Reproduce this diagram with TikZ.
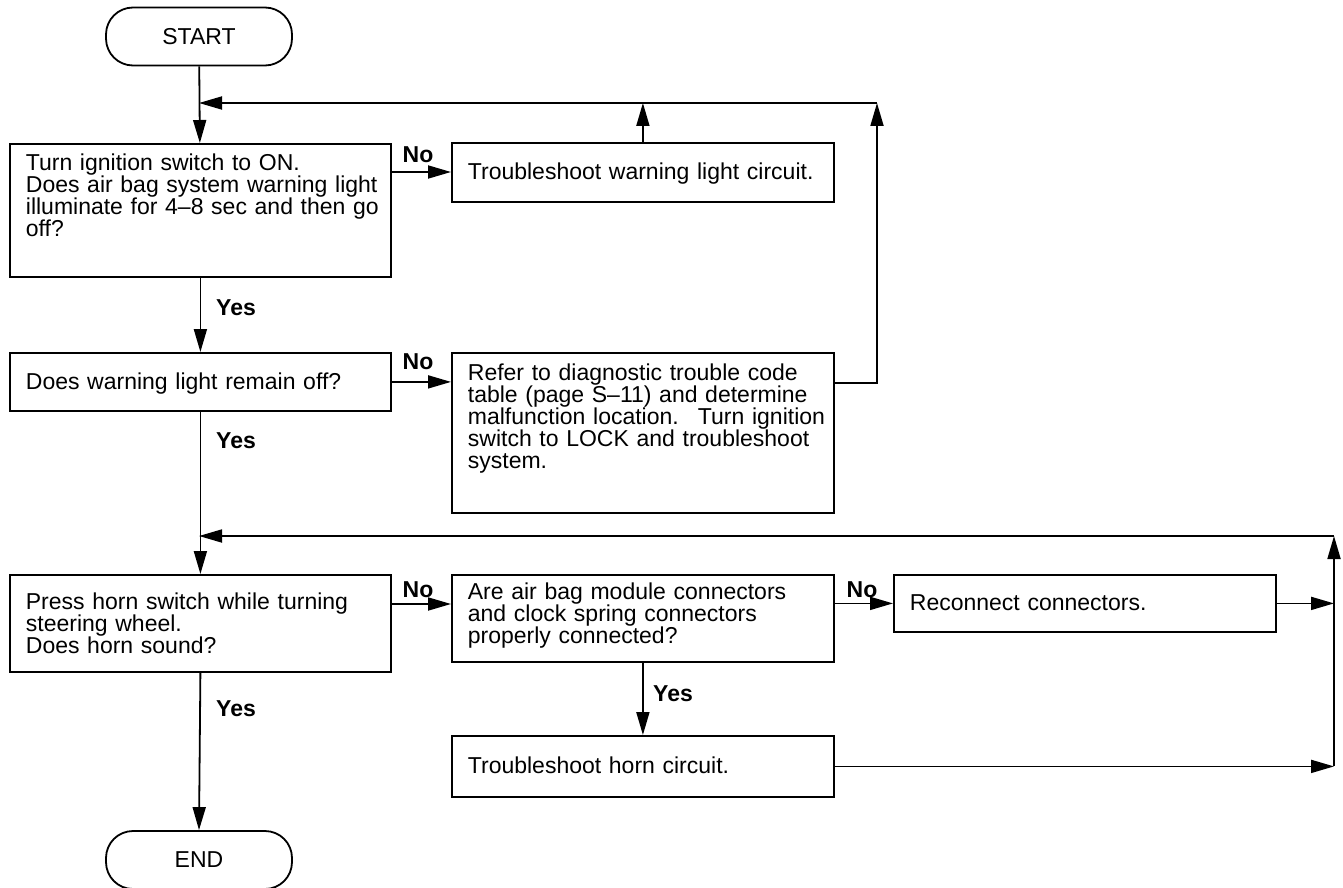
\documentclass[tikz,border=0pt]{standalone}
\usepackage{fontspec}
\setmainfont{Liberation Sans}
\usetikzlibrary{arrows.meta}
\hfuzz=40pt
\hbadness=10000
\begin{document}
\begin{tikzpicture}[x=1pt,y=-1pt,
  line width=1.8pt,
  box/.style={draw, rectangle, anchor=north west, align=left, inner xsep=16pt, inner ysep=0pt,
    font=\fontsize{23}{22}\selectfont},
  tb/.style 2 args={text height=#1, text depth=#2},
  wl/.style={minimum width=381pt, text width=349pt},
  wr/.style={minimum width=382pt, text width=350pt},
  term/.style={draw, rectangle, rounded corners=27pt, minimum width=186pt, minimum height=58pt,
    font=\fontsize{23}{22}\selectfont},
  lbl/.style={font=\bfseries\fontsize{23}{22}\selectfont, inner sep=0pt},
  arr/.style={-{Triangle[length=23pt,width=13pt]}}
]
\useasboundingbox (0,0) rectangle (1343,888);

% terminals
\node[term] (start) at (199,36.5) {START};
\node[term] (end) at (199,860) {END};

% boxes
\node[box, wl, tb={27pt}{106pt}] (b1) at (9,143)
  {\mbox{Turn ignition switch to ON.}\\\mbox{Does air bag system warning light}\\\mbox{illuminate for 4--8 sec and then go}\\off?};
\node[box, wr, tb={37pt}{22pt}] (b2) at (451,142)
  {\mbox{Troubleshoot warning light circuit.}};
\node[box, wl, tb={37pt}{21pt}] (b4) at (9,352)
  {\mbox{Does warning light remain off?}};
\node[box, wr, tb={28pt}{132pt}] (b3) at (451,352)
  {\mbox{Refer to diagnostic trouble code}\\\mbox{table (page S--11) and determine}\\\mbox{malfunction location.~ Turn ignition}\\\mbox{switch to LOCK and troubleshoot}\\system.};
\node[box, wl, tb={35pt}{62pt}] (b5) at (9,574)
  {\mbox{Press horn switch while turning}\\\mbox{steering wheel.}\\\mbox{Does horn sound?}};
\node[box, wr, tb={25pt}{62pt}] (b6) at (451,574)
  {\mbox{Are air bag module connectors}\\\mbox{and clock spring connectors}\\\mbox{properly connected?}};
\node[box, wr, tb={36pt}{21pt}] (b7) at (893,574)
  {\mbox{Reconnect connectors.}};
\node[box, wr, tb={38pt}{23pt}] (b8) at (451,735)
  {\mbox{Troubleshoot horn circuit.}};

% helper coordinates
\coordinate (tx) at (877,103);
\coordinate (m3) at (855,383);
\coordinate (rx) at (1334,536);
\coordinate (n5) at (420,604);
\coordinate (n1) at (420,172);

% labels
\node[lbl] (no1) at (418,155) {No};
\node[lbl] (no2) at (418,362) {No};
\node[lbl] (no3) at (418,590) {No};
\node[lbl] (no4) at (862,590) {No};
\node[lbl] (y1) at (236,308) {Yes};
\node[lbl] (y2) at (236,441) {Yes};
\node[lbl] (y3) at (236,709) {Yes};
\node[lbl] (y4) at (673,694) {Yes};

% connectors
\draw[arr] (start) -- (b1);
\draw[arr] (b1.east |- n1) -- (b2.west |- n1);
\draw[arr] (b2.north) -- (b2.north |- tx);
\draw[arr] (b3.east |- m3) -| (tx);
\draw[arr] (tx) -- (tx -| start);
\draw[arr] (b1.south) -- (b4.north);
\draw[arr] (b4.east) -- (b4.east -| b3.west);
\draw[arr] (b4.south) -- (b5.north);
\draw[arr] (b5.east |- n5) -- (b6.west |- n5);
\draw[arr] (b6.east |- b7.west) -- (b7.west);
\draw[arr] (b7.east) -- (b7.east -| rx);
\draw[arr] (b6.south) -- (b8.north);
\draw[arr] (b8.east) -- (b8.east -| rx);
\draw[arr] (b8.east -| rx) -- (rx);
\draw[arr] (rx) -- (rx -| start);
\draw[arr] (b5.south) -- (end.north);
\end{tikzpicture}
\end{document}
